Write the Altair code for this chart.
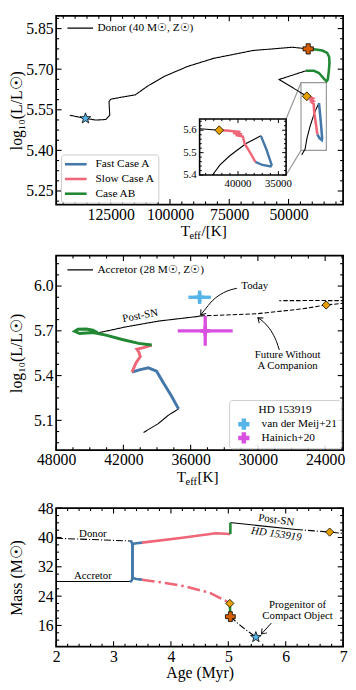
import altair as alt
import pandas as pd

FONT = "Liberation Serif"
BLUE, PINK, GREEN = "#4477AA", "#EE6677", "#228833"
CYAN, MAGENTA = "#56B4E9", "#D94FE0"
GOLD, ORANGE = "#E69F00", "#D55E00"
STAR = ("M0,-1L0.235,-0.324L0.951,-0.309L0.38,0.124L0.588,0.809L0,0.4L-0.588,0.809"
        "L-0.38,0.124L-0.951,-0.309L-0.235,-0.324Z")
HEAD = "M-1,-0.75L0,0L-1,0.75"
LEGLINE = "M-2,0L2,0"
PHASES = ["Fast Case A", "Slow Case A", "Case AB"]
PH_COLORS = [BLUE, PINK, GREEN]
DONOR_LABEL = "Donor (40 M☉, Z☉)"
ACC_LABEL = "Accretor (28 M☉, Z☉)"

# ---------------- layout ----------------
W = 292
H1, H2, H3 = 192, 198, 141
X1_DOM = [27000, 148000]; Y1_DOM = [5.20, 5.897]
X2_DOM = [22400, 48000]; Y2_DOM = [4.90, 6.204]
X3_DOM = [2.0, 7.0]; Y3_DOM = [10.2, 48.0]
IN_X_DOM = [34050, 44750]; IN_Y_DOM = [5.40, 5.65]
IN_BOX = (146, 105, 234, 162)  # left, top, right, bottom (panel-1 pixels)

X1_MAJ = [125000, 100000, 75000, 50000]
Y1_MAJ = [5.25, 5.40, 5.55, 5.70, 5.85]
X2_MAJ = [48000, 42000, 36000, 30000, 24000]
Y2_MAJ = [5.1, 5.4, 5.7, 6.0]
X3_MAJ = [2, 3, 4, 5, 6, 7]
Y3_MAJ = [16, 24, 32, 40, 48]
IN_X_MAJ = [40000, 35000]
IN_Y_MAJ = [5.4, 5.5, 5.6]

# ---------------- panel 1 data: donor HRD ----------------
d_pre_T = [44450, 43050, 42230, 41020, 39000, 37170]
d_pre_L = [5.384, 5.404, 5.445, 5.486, 5.541, 5.575]
d_fast_T = [37170, 36480, 35840, 35960, 36970, 37855]
d_fast_L = [5.575, 5.514, 5.445, 5.438, 5.445, 5.459]
d_slow_T = [37855, 38390, 39190, 39400, 40300, 39500, 40600, 39700, 41430, 42320]
d_slow_L = [5.459, 5.493, 5.541, 5.572, 5.578, 5.582, 5.587, 5.592, 5.599, 5.600]
d_mid_T = [42320, 53970, 42680]
d_mid_L = [5.600, 5.662, 5.694]
d_ab_T = [42680, 39240, 37170, 35100, 33990, 33440, 33030, 32740, 32870, 33700, 35770, 38540, 41720]
d_ab_L = [5.694, 5.694, 5.686, 5.665, 5.655, 5.662, 5.692, 5.722, 5.745, 5.760, 5.769, 5.773, 5.775]
d_post_T = [41720, 48470, 65000, 81560, 92600, 102250, 109150, 114660, 120160, 125000,
            125700, 125400, 127070, 131200, 135630, 142250]
d_post_L = [5.775, 5.781, 5.769, 5.740, 5.710, 5.674, 5.639, 5.605, 5.597, 5.589,
            5.580, 5.530, 5.514, 5.512, 5.518, 5.530]
in_pre_T = [43150, 42230, 41020, 39000, 37170]
in_pre_L = [5.400, 5.445, 5.486, 5.541, 5.575]
in_mid_T = [44750, 42320]
in_mid_L = [5.607, 5.600]
p1_star = (135630, 5.518)
p1_plus = (41720, 5.775)
p1_diam = (42320, 5.600)

# ---------------- panel 2 data: accretor HRD ----------------
a_pre_T = [40200, 38890, 38010, 37080]
a_pre_L = [5.019, 5.078, 5.133, 5.177]
a_fast_T = [37080, 37725, 38450, 39040, 39770, 40500, 41230]
a_fast_L = [5.177, 5.265, 5.353, 5.429, 5.452, 5.440, 5.423]
a_slow_T = [41230, 40878, 40493, 40640, 40790, 40200, 39476]
a_slow_L = [5.423, 5.485, 5.528, 5.561, 5.577, 5.587, 5.605]
a_ab_T = [39476, 40640, 42105, 43560, 44730, 45900, 46340, 46050, 45310, 44730, 44290]
a_ab_L = [5.605, 5.616, 5.642, 5.671, 5.689, 5.682, 5.697, 5.710, 5.712, 5.704, 5.686]
a_post_T = [44290, 41810, 38890, 35390, 35100]
a_post_L = [5.686, 5.726, 5.765, 5.796, 5.800]
a_fut_T = [35100, 30130, 26040, 23910, 22000, 21000, 22000, 25000, 28100]
a_fut_L = [5.800, 5.814, 5.847, 5.873, 5.888, 5.895, 5.902, 5.903, 5.902]
p2_diam = (23910, 5.873)
OBS_NAMES = ["van der Meij+21", "Hainich+20"]
OBS_COLORS = [CYAN, MAGENTA]
OBS_T = [35200, 34700]
OBS_TERR = [1000, 2450]
OBS_L = [5.925, 5.70]
OBS_LERR = [0.045, 0.10]
p2_text = ["Post-SN", "Today", "Future Without", "A Companion"]
p2_text_T = [40500, 30280, 27350, 27350]
p2_text_L = [5.80, 6.00, 5.540, 5.462]
p2_text_ang = [350, 0, 0, 0]
arr_today_T = [31880, 33050, 34070, 34800, 35100]
arr_today_L = [5.985, 5.956, 5.901, 5.835, 5.807]
arr_fut_T = [28090, 28350, 28670, 29300, 30000]
arr_fut_L = [5.572, 5.630, 5.680, 5.745, 5.787]
heads2 = [(35100, 5.807, 129), (30000, 5.787, 219)]

# ---------------- panel 3 data: mass vs age ----------------
age_d_pre = [2.0, 3.284]; m_d_pre = [39.8, 39.05]
age_a_pre = [2.0, 3.284]; m_a_pre = [28.0, 28.0]
age_d_fast = [3.284, 3.31, 3.325, 3.33, 3.33, 3.335, 3.35, 3.40, 3.495]
m_d_fast = [39.05, 38.9, 38.3, 37.0, 30.0, 29.2, 28.85, 28.65, 28.5]
age_a_fast = [3.284, 3.31, 3.325, 3.33, 3.33, 3.335, 3.35, 3.40, 3.495]
m_a_fast = [28.0, 28.1, 28.6, 30.0, 37.0, 38.0, 38.3, 38.45, 38.6]
age_a_slow = [3.495, 4.2, 4.78, 5.036]; m_a_slow = [38.6, 39.9, 41.15, 40.95]
age_d_slow = [3.495, 3.9, 4.24, 4.68, 4.97, 5.026]; m_d_slow = [28.5, 27.6, 26.7, 24.9, 22.6, 22.0]
age_a_ab = [5.036, 5.036]; m_a_ab = [40.95, 44.0]
age_d_ab = [5.026, 5.036]; m_d_ab = [22.0, 18.4]
age_a_post = [5.036, 5.065, 6.18]; m_a_post = [44.0, 44.0, 42.2]
age_a_fut = [6.18, 6.5, 6.766, 7.1]; m_a_fut = [42.2, 41.8, 41.47, 41.0]
age_d_post = [5.036, 5.15, 5.265, 5.378, 5.48]; m_d_post = [18.4, 16.8, 15.3, 14.0, 12.8]
p3_diams = [(6.766, 41.47), (5.026, 22.0)]
p3_plus = (5.036, 18.4)
p3_star = (5.48, 12.8)
p3_text = ["Donor", "Accretor", "Post-SN", "Progenitor of", "Compact Object"]
p3_text_x = [2.64, 2.64, 5.836, 6.207, 6.207]
p3_text_y = [40.85, 29.4, 44.69, 21.57, 18.69]
p3_text_ang = [0, 0, 8, 0, 0]
p3_ital = ["HD 153919"]; p3_ital_x = [5.836]; p3_ital_y = [40.85]
arr3_x = [5.75, 5.579]; arr3_y = [16.65, 13.69]
heads3 = [(5.579, 13.69, 132)]


# ---------------- helpers ----------------
def tracks(pieces):
    rows = []
    for seg, phase, xs, ys in pieces:
        for i, (a, b) in enumerate(zip(xs, ys)):
            rows.append(dict(x=a, y=b, seg=seg, phase=phase, o=i))
    return pd.DataFrame(rows)


def minors(anchor, step, n, lo, hi):
    out = []
    for k in range(-400, 400):
        v = anchor + k * step
        if k % n != 0 and lo < v < hi:
            out.append(round(v, 6))
    return out


def X(f, P):
    return alt.X(f, scale=P["xs"], axis=P["xa"])


def Y(f, P):
    return alt.Y(f, scale=P["ys"], axis=P["ya"])


def XD(v, P):
    return alt.X(datum=v, type="quantitative", scale=P["xs"], axis=P["xa"])


def YD(v, P):
    return alt.Y(datum=v, type="quantitative", scale=P["ys"], axis=P["ya"])


def tick_layers(P, xmaj, xmin, ymaj, ymin, edges, px, big=5.5, small=3.0, sw=1.1):
    """Inward ticks on all four sides; edges = (x_left, x_right, y_bottom, y_top) in data
    units, px = (plot width, plot height) in pixels, used to turn tick length into data units."""
    xl, xr, yb, yt = edges
    dxp = (xr - xl) / px[0]
    dyp = (yt - yb) / px[1]
    out = []
    for vals, ln in ((xmaj, big), (xmin, small)):
        base = alt.Chart(pd.DataFrame({"v": vals})).mark_rule(color="black", strokeWidth=sw)
        out.append(base.encode(x=X("v:Q", P), y=YD(yb, P), y2=alt.Y2(datum=yb + ln * dyp)))
        out.append(base.encode(x=X("v:Q", P), y=YD(yt, P), y2=alt.Y2(datum=yt - ln * dyp)))
    for vals, ln in ((ymaj, big), (ymin, small)):
        base = alt.Chart(pd.DataFrame({"v": vals})).mark_rule(color="black", strokeWidth=sw)
        out.append(base.encode(y=Y("v:Q", P), x=XD(xl, P), x2=alt.X2(datum=xl + ln * dxp)))
        out.append(base.encode(y=Y("v:Q", P), x=XD(xr, P), x2=alt.X2(datum=xr - ln * dxp)))
    return out


def marker(pts, shape, fill, size, P):
    df = pd.DataFrame({"x": [p[0] for p in pts], "y": [p[1] for p in pts]})
    return alt.Chart(df).mark_point(shape=shape, filled=True, fill=fill, stroke="black",
                                    strokeWidth=0.8, size=size, opacity=1).encode(
        x=X("x:Q", P), y=Y("y:Q", P))


def heads(hs, P):
    df = pd.DataFrame({"x": [h[0] for h in hs], "y": [h[1] for h in hs], "a": [h[2] for h in hs]})
    return alt.Chart(df).mark_point(shape=HEAD, filled=False, color="black", strokeWidth=1,
                                    size=80, opacity=1).encode(
        x=X("x:Q", P), y=Y("y:Q", P), angle=alt.Angle("a:Q", scale=None))


def texts(txt, xs, ys, angs, P, size=11, style="normal"):
    df = pd.DataFrame({"t": txt, "x": xs, "y": ys, "a": angs})
    return alt.Chart(df).mark_text(font=FONT, fontSize=size, fontStyle=style, color="black",
                                   baseline="middle").encode(
        x=X("x:Q", P), y=Y("y:Q", P), text="t:N", angle=alt.Angle("a:Q", scale=None))


def sub_title(H, tail, cx):
    y = H + 32
    bfs, sfs = 15.5, 10.5
    wT = 0.611 * bfs
    ws = 1.11 * sfs
    wt = 1.64 * bfs
    x0 = cx - (wT + ws + wt) / 2
    out = []
    for s, fs, px, dy in (("T", bfs, x0, 0), ("eff", sfs, x0 + wT - 0.5, 3.5), (tail, bfs, x0 + wT + ws, 0)):
        out.append(alt.Chart(pd.DataFrame({"t": [s]})).mark_text(
            font=FONT, fontSize=fs, align="left", baseline="alphabetic", color="black").encode(
            text="t:N", x=alt.value(px), y=alt.value(y + dy)))
    return out


def line_legend(y):
    return alt.Legend(orient="none", legendX=4, legendY=y, title=None, symbolType=LEGLINE,
                      symbolSize=169, symbolStrokeWidth=1.2, symbolStrokeColor="black",
                      symbolOffset=13, labelOffset=10, labelFont=FONT, labelFontSize=11.5,
                      labelColor="black", padding=0)


# ---------------- panel 1 ----------------
P1 = dict(
    xs=alt.Scale(domain=X1_DOM, reverse=True, nice=False, zero=False),
    ys=alt.Scale(domain=Y1_DOM, nice=False, zero=False),
    xa=alt.Axis(values=X1_MAJ, format="d", title=None, labelPadding=2, labelFlush=False,
                labelOverlap=False),
    ya=alt.Axis(values=Y1_MAJ, format=".2f", title="log₁₀(L/L☉)", labelPadding=3,
                minExtent=31, titlePadding=1, labelFlush=False, labelOverlap=False),
)

col1_df = tracks([("f", "Fast Case A", d_fast_T, d_fast_L), ("s", "Slow Case A", d_slow_T, d_slow_L),
                  ("ab", "Case AB", d_ab_T, d_ab_L)])
blk1_df = tracks([("a", DONOR_LABEL, d_pre_T, d_pre_L), ("b", DONOR_LABEL, d_mid_T, d_mid_L),
                  ("c", DONOR_LABEL, d_post_T, d_post_L)])

rect_df = pd.DataFrame({"x1": [IN_X_DOM[1]], "x2": [IN_X_DOM[0]], "y1": [IN_Y_DOM[0]], "y2": [IN_Y_DOM[1]]})


def inv_x1(px):
    return X1_DOM[1] - px / W * (X1_DOM[1] - X1_DOM[0])


def inv_y1(py):
    return Y1_DOM[1] - py / H1 * (Y1_DOM[1] - Y1_DOM[0])


conn_df = pd.DataFrame({"x1": [IN_X_DOM[1], IN_X_DOM[1]], "y1": [IN_Y_DOM[1], IN_Y_DOM[0]],
                        "x2": [inv_x1(IN_BOX[2])] * 2, "y2": [inv_y1(IN_BOX[1]), inv_y1(IN_BOX[3])]})

gray_rect = alt.Chart(rect_df).mark_rect(fillOpacity=0, stroke="#999999", strokeWidth=1.2).encode(
    x=X("x1:Q", P1), x2="x2", y=Y("y1:Q", P1), y2="y2")
conn = alt.Chart(conn_df).mark_rule(color="#999999", strokeWidth=1.2).encode(
    x=X("x1:Q", P1), x2="x2", y=Y("y1:Q", P1), y2="y2")

blk1 = alt.Chart(blk1_df).mark_line(color="black", strokeWidth=1.1, clip=True).encode(
    x=X("x:Q", P1), y=Y("y:Q", P1), detail="seg:N", order="o:Q",
    strokeDash=alt.StrokeDash("phase:N", scale=alt.Scale(domain=[DONOR_LABEL], range=[[1, 0]]),
                              legend=line_legend(5)))
col1 = alt.Chart(col1_df).mark_line(strokeWidth=2.6, clip=True).encode(
    x=X("x:Q", P1), y=Y("y:Q", P1),
    color=alt.Color("phase:N", scale=alt.Scale(domain=PHASES, range=PH_COLORS),
                    legend=alt.Legend(orient="none", legendX=5, legendY=141, title=None,
                                      symbolType=LEGLINE, symbolSize=121, symbolStrokeWidth=2.6,
                                      symbolOffset=5, labelOffset=13, labelFont=FONT,
                                      labelFontSize=11.5, labelColor="black", padding=3,
                                      rowPadding=2, fillColor="rgba(255,255,255,0.85)",
                                      strokeColor="#cccccc", cornerRadius=3)),
    detail="seg:N", order="o:Q")

main1 = alt.layer(
    gray_rect, conn, blk1, col1,
    marker([p1_star], STAR, CYAN, 130, P1),
    marker([p1_plus], "cross", ORANGE, 110, P1),
    marker([p1_diam], "diamond", GOLD, 80, P1),
    *tick_layers(P1, X1_MAJ, minors(50000, 5000, 5, X1_DOM[0], X1_DOM[1]),
                 Y1_MAJ, minors(5.25, 0.0375, 4, Y1_DOM[0], Y1_DOM[1]),
                 (X1_DOM[1], X1_DOM[0], Y1_DOM[0], Y1_DOM[1]), (W, H1)),
    *sub_title(H1, "/[K]", W / 2 + 4),
)

# inset (own scales, placed by pixel range inside panel 1)
PI = dict(
    xs=alt.Scale(domain=IN_X_DOM, reverse=True, range=[IN_BOX[0], IN_BOX[2]], nice=False, zero=False),
    ys=alt.Scale(domain=IN_Y_DOM, range=[IN_BOX[3], IN_BOX[1]], nice=False, zero=False),
    xa=None, ya=None,
)
in_frame = alt.Chart(rect_df).mark_rect(fill="white", stroke="black", strokeWidth=1.6).encode(
    x=X("x1:Q", PI), x2="x2", y=Y("y1:Q", PI), y2="y2")
in_blk = alt.Chart(tracks([("a", "", in_pre_T, in_pre_L), ("b", "", in_mid_T, in_mid_L)])).mark_line(
    color="black", strokeWidth=1.1).encode(x=X("x:Q", PI), y=Y("y:Q", PI), detail="seg:N", order="o:Q")
in_fast = alt.Chart(tracks([("f", "", d_fast_T, d_fast_L)])).mark_line(color=BLUE, strokeWidth=2.4).encode(
    x=X("x:Q", PI), y=Y("y:Q", PI), order="o:Q")
in_slow = alt.Chart(tracks([("s", "", d_slow_T, d_slow_L)])).mark_line(color=PINK, strokeWidth=2.4).encode(
    x=X("x:Q", PI), y=Y("y:Q", PI), order="o:Q")
in_xlab = alt.Chart(pd.DataFrame({"v": IN_X_MAJ})).mark_text(
    font=FONT, fontSize=11, baseline="top", color="black").encode(
    x=X("v:Q", PI), y=alt.value(IN_BOX[3] + 3), text=alt.Text("v:Q", format="d"))
in_ylab = alt.Chart(pd.DataFrame({"v": IN_Y_MAJ})).mark_text(
    font=FONT, fontSize=11, align="right", baseline="middle", color="black").encode(
    y=Y("v:Q", PI), x=alt.value(IN_BOX[0] - 3), text=alt.Text("v:Q", format=".1f"))
inset = alt.layer(
    in_frame, in_blk, in_fast, in_slow,
    marker([p1_diam], "diamond", GOLD, 80, PI),
    in_xlab, in_ylab,
    *tick_layers(PI, IN_X_MAJ, minors(35000, 1000, 5, IN_X_DOM[0], IN_X_DOM[1]),
                 IN_Y_MAJ, minors(5.4, 0.02, 5, IN_Y_DOM[0], IN_Y_DOM[1]),
                 (IN_X_DOM[1], IN_X_DOM[0], IN_Y_DOM[0], IN_Y_DOM[1]),
                 (IN_BOX[2] - IN_BOX[0], IN_BOX[3] - IN_BOX[1]), big=4.0, small=2.2, sw=1.0),
)

p1 = alt.layer(main1, inset).resolve_scale(x="independent", y="independent").properties(width=W, height=H1)

# ---------------- panel 2 ----------------
P2 = dict(
    xs=alt.Scale(domain=X2_DOM, reverse=True, nice=False, zero=False),
    ys=alt.Scale(domain=Y2_DOM, nice=False, zero=False),
    xa=alt.Axis(values=X2_MAJ, format="d", title=None, labelPadding=2, labelFlush=False,
                labelOverlap=False),
    ya=alt.Axis(values=Y2_MAJ, format=".1f", title="log₁₀(L/L☉)", labelPadding=3,
                minExtent=31, titlePadding=1, labelFlush=False, labelOverlap=False),
)

col2_df = tracks([("f", "Fast Case A", a_fast_T, a_fast_L), ("s", "Slow Case A", a_slow_T, a_slow_L),
                  ("ab", "Case AB", a_ab_T, a_ab_L)])
blk2_df = tracks([("a", ACC_LABEL, a_pre_T, a_pre_L), ("b", ACC_LABEL, a_post_T, a_post_L)])
fut2_df = tracks([("f", "", a_fut_T, a_fut_L)])

blk2 = alt.Chart(blk2_df).mark_line(color="black", strokeWidth=1.1, clip=True).encode(
    x=X("x:Q", P2), y=Y("y:Q", P2), detail="seg:N", order="o:Q",
    strokeDash=alt.StrokeDash("phase:N", scale=alt.Scale(domain=[ACC_LABEL], range=[[1, 0]]),
                              legend=line_legend(7)))
fut2 = alt.Chart(fut2_df).mark_line(color="black", strokeWidth=1.1, strokeDash=[4.5, 2], clip=True).encode(
    x=X("x:Q", P2), y=Y("y:Q", P2), order="o:Q")
col2 = alt.Chart(col2_df).mark_line(strokeWidth=3, clip=True).encode(
    x=X("x:Q", P2), y=Y("y:Q", P2),
    color=alt.Color("phase:N", scale=alt.Scale(domain=PHASES, range=PH_COLORS), legend=None),
    detail="seg:N", order="o:Q")

obs = pd.DataFrame({"src": OBS_NAMES, "T": OBS_T, "Terr": OBS_TERR, "L": OBS_L, "Lerr": OBS_LERR})
obs["T0"] = obs["T"] - obs["Terr"]
obs["T1"] = obs["T"] + obs["Terr"]
obs["L0"] = obs["L"] - obs["Lerr"]
obs["L1"] = obs["L"] + obs["Lerr"]
err_layers = []
for i, c in enumerate(OBS_COLORS):
    one = obs.iloc[[i]]
    err_layers.append(alt.Chart(one).mark_rule(strokeWidth=3.4, color=c).encode(
        x=X("T0:Q", P2), x2="T1", y=Y("L:Q", P2)))
    err_layers.append(alt.Chart(one).mark_rule(strokeWidth=3.4, color=c).encode(
        x=X("T:Q", P2), y=Y("L0:Q", P2), y2="L1"))
obs_pts = alt.Chart(obs).mark_point(shape="cross", filled=True, size=90, opacity=1).encode(
    x=X("T:Q", P2), y=Y("L:Q", P2),
    fill=alt.Fill("src:N", scale=alt.Scale(domain=OBS_NAMES, range=OBS_COLORS),
                  legend=alt.Legend(orient="none", legendX=176, legendY=147, title="HD 153919",
                                    titleFont=FONT, titleFontSize=11.5, titleFontWeight="normal",
                                    titleColor="black", titleAnchor="middle", titlePadding=3,
                                    symbolType="cross", symbolSize=130, symbolStrokeWidth=0,
                                    symbolOffset=5, labelOffset=12, labelFont=FONT,
                                    labelFontSize=11.5, labelColor="black", padding=4,
                                    rowPadding=2, fillColor="rgba(255,255,255,0.85)",
                                    strokeColor="#cccccc", cornerRadius=3)))

arrow2_df = tracks([("t", "", arr_today_T, arr_today_L), ("f", "", arr_fut_T, arr_fut_L)])
arrows2 = alt.Chart(arrow2_df).mark_line(color="black", strokeWidth=1, interpolate="monotone").encode(
    x=X("x:Q", P2), y=Y("y:Q", P2), detail="seg:N", order="o:Q")

p2 = alt.layer(
    blk2, fut2, col2, *err_layers, obs_pts, arrows2, heads(heads2, P2),
    texts(p2_text, p2_text_T, p2_text_L, p2_text_ang, P2),
    marker([p2_diam], "diamond", GOLD, 70, P2),
    *tick_layers(P2, X2_MAJ, minors(24000, 1500, 4, X2_DOM[0], X2_DOM[1]),
                 Y2_MAJ, minors(5.1, 0.075, 4, Y2_DOM[0], Y2_DOM[1]),
                 (X2_DOM[1], X2_DOM[0], Y2_DOM[0], Y2_DOM[1]), (W, H2)),
    *sub_title(H2, " [K]", W / 2),
).properties(width=W, height=H2)

# ---------------- panel 3 ----------------
P3 = dict(
    xs=alt.Scale(domain=X3_DOM, nice=False, zero=False),
    ys=alt.Scale(domain=Y3_DOM, nice=False, zero=False),
    xa=alt.Axis(values=X3_MAJ, format="d", title="Age (Myr)", labelPadding=2, titlePadding=0,
                labelFlush=False, labelOverlap=False),
    ya=alt.Axis(values=Y3_MAJ, format="d", title="Mass (M☉)", labelPadding=3,
                minExtent=31, titlePadding=1, labelFlush=False, labelOverlap=False),
)

col3_solid = tracks([("af", "Fast Case A", age_a_fast, m_a_fast), ("df", "Fast Case A", age_d_fast, m_d_fast),
                     ("as", "Slow Case A", age_a_slow, m_a_slow), ("aab", "Case AB", age_a_ab, m_a_ab),
                     ("dab", "Case AB", age_d_ab, m_d_ab)])
col3_dd = tracks([("ds", "Slow Case A", age_d_slow, m_d_slow)])
blk3_solid = tracks([("ap", "", age_a_pre, m_a_pre), ("apost", "", age_a_post, m_a_post)])
blk3_dd = tracks([("dp", "", age_d_pre, m_d_pre), ("afut", "", age_a_fut, m_a_fut),
                  ("dpost", "", age_d_post, m_d_post)])
cscale3 = alt.Scale(domain=PHASES, range=PH_COLORS)

l_blk3s = alt.Chart(blk3_solid).mark_line(color="black", strokeWidth=1.1, clip=True).encode(
    x=X("x:Q", P3), y=Y("y:Q", P3), detail="seg:N", order="o:Q")
l_blk3d = alt.Chart(blk3_dd).mark_line(color="black", strokeWidth=1.1, strokeDash=[7, 2, 1.2, 2],
                                       clip=True).encode(
    x=X("x:Q", P3), y=Y("y:Q", P3), detail="seg:N", order="o:Q")
l_col3s = alt.Chart(col3_solid).mark_line(strokeWidth=2.6, clip=True).encode(
    x=X("x:Q", P3), y=Y("y:Q", P3),
    color=alt.Color("phase:N", scale=cscale3, legend=None), detail="seg:N", order="o:Q")
l_col3d = alt.Chart(col3_dd).mark_line(strokeWidth=2.6, strokeDash=[13, 4, 2.5, 4], clip=True).encode(
    x=X("x:Q", P3), y=Y("y:Q", P3),
    color=alt.Color("phase:N", scale=cscale3, legend=None), detail="seg:N", order="o:Q")
arr3 = alt.Chart(tracks([("a", "", arr3_x, arr3_y)])).mark_line(color="black", strokeWidth=1).encode(
    x=X("x:Q", P3), y=Y("y:Q", P3), order="o:Q")

p3 = alt.layer(
    l_blk3s, l_blk3d, l_col3s, l_col3d, arr3, heads(heads3, P3),
    texts(p3_text, p3_text_x, p3_text_y, p3_text_ang, P3),
    texts(p3_ital, p3_ital_x, p3_ital_y, [8], P3, style="italic"),
    marker(p3_diams, "diamond", GOLD, 70, P3),
    marker([p3_plus], "cross", ORANGE, 100, P3),
    marker([p3_star], STAR, CYAN, 130, P3),
    *tick_layers(P3, X3_MAJ, minors(2, 0.2, 5, X3_DOM[0], X3_DOM[1]),
                 Y3_MAJ, minors(16, 2, 4, Y3_DOM[0], Y3_DOM[1]),
                 (X3_DOM[0], X3_DOM[1], Y3_DOM[0], Y3_DOM[1]), (W, H3)),
).properties(width=W, height=H3)

chart = alt.vconcat(p1, p2, p3, spacing=11).resolve_scale(
    color="independent", strokeDash="independent", fill="independent"
).resolve_legend(
    color="independent", strokeDash="independent", fill="independent"
).properties(padding=0).configure_view(stroke="black", strokeWidth=1.8).configure_axis(
    grid=False, ticks=False, domain=False, tickSize=0, labelFont=FONT, titleFont=FONT,
    labelFontSize=16, titleFontSize=16, labelColor="black", titleColor="black",
    titleFontWeight="normal")

chart.save("out.html", embed_options={"renderer": "svg", "actions": False})
